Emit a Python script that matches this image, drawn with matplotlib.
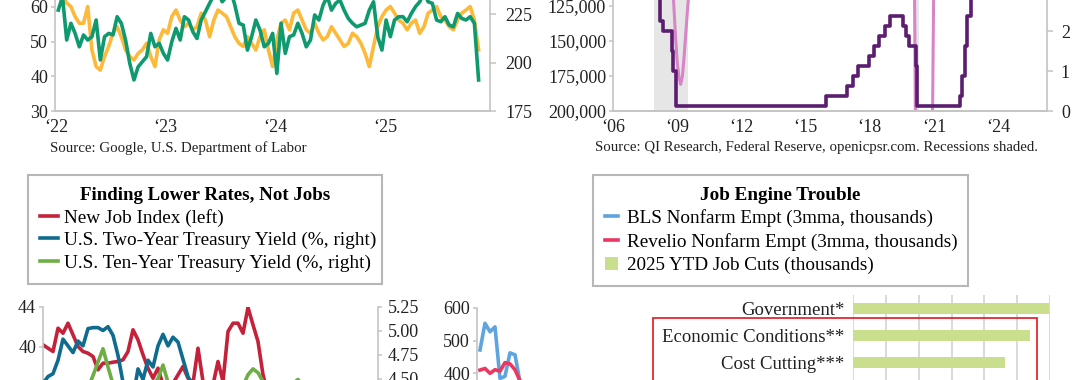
import matplotlib
matplotlib.use("Agg")
import matplotlib.pyplot as plt
import numpy as np
import pandas as pd
from matplotlib.patches import Rectangle
from matplotlib.ticker import FuncFormatter

plt.rcParams["font.family"] = ["Liberation Serif", "DejaVu Serif"]

W, H = 1080, 380

# --- top left: Google job search index (left) and initial claims (right) ---
claims_dates = pd.date_range("2022-01-08", periods=101, freq="14D")
google_index = [
    64.9, 63.0, 61.1, 60.1, 57.2, 55.3, 55.3, 60.1, 47.6, 42.8,
    41.8, 45.7, 48.6, 52.4, 54.3, 51.4, 47.6, 45.7, 44.7, 46.6,
    47.6, 49.5, 45.7, 42.8, 50.5, 53.4, 52.4, 57.2, 59.1, 56.2,
    54.3, 55.3, 53.4, 54.3, 58.2, 56.2, 51.4, 56.2, 59.1, 58.2,
    57.2, 54.3, 51.4, 49.5, 48.6, 51.4, 49.5, 47.6, 51.4, 53.4,
    47.6, 42.8, 50.5, 55.3, 56.2, 53.4, 58.2, 59.1, 56.2, 53.4,
    52.4, 55.3, 52.4, 50.5, 51.4, 54.3, 52.4, 50.5, 48.6, 49.5,
    52.4, 51.4, 49.5, 46.6, 42.8, 48.6, 54.3, 57.2, 59.1, 60.1,
    58.2, 56.2, 55.3, 53.4, 55.3, 56.2, 52.4, 54.3, 58.2, 59.1,
    60.1, 57.2, 56.2, 54.3, 53.4, 56.2, 58.2, 59.1, 60.1, 56.2,
    47.6,
]
initial_claims = [
    227.0, 233.9, 211.6, 220.2, 215.0, 208.1, 214.2, 211.6, 213.3, 221.9,
    201.3, 213.3, 215.0, 214.2, 223.6, 220.2, 211.6, 199.6, 191.0, 197.8,
    200.4, 203.0, 215.0, 208.1, 209.9, 204.7, 201.3, 210.7, 217.6, 211.6,
    223.6, 221.9, 215.9, 212.4, 221.9, 226.2, 230.5, 234.8, 236.5, 231.3,
    233.9, 237.4, 229.6, 220.2, 219.3, 206.4, 213.3, 221.9, 216.7, 208.1,
    209.9, 215.0, 194.4, 220.2, 204.7, 213.3, 214.2, 220.2, 215.0, 208.1,
    211.6, 224.5, 221.9, 229.6, 234.0, 227.0, 230.5, 232.2, 227.0, 222.7,
    220.2, 218.4, 219.3, 220.2, 227.0, 231.3, 213.3, 206.4, 221.9, 213.3,
    221.9, 223.6, 223.6, 221.0, 225.3, 228.8, 231.3, 236.0, 231.3, 230.5,
    221.9, 221.0, 223.6, 219.3, 218.4, 225.3, 222.7, 221.9, 223.6, 220.2,
    191.0,
]
year_ticks_top_left = ["2022-01-01", "2023-01-01", "2024-01-01", "2025-01-01"]
year_labels_top_left = ["\u201822", "\u201823", "\u201824", "\u201825"]

# --- top right: fed funds rate (right) and pink series (left, inverted) ---
fed_dates = [
    "2006-01-01", "2006-06-29", "2007-09-18", "2007-10-31", "2007-12-11",
    "2008-01-22", "2008-01-30", "2008-03-18", "2008-04-30", "2008-10-08",
    "2008-10-29", "2008-12-16", "2015-12-16", "2016-12-14", "2017-03-15",
    "2017-06-14", "2017-12-13", "2018-03-21", "2018-06-13", "2018-09-26",
    "2018-12-19", "2019-07-31", "2019-09-18", "2019-10-30", "2020-03-03",
    "2020-03-15", "2022-03-16", "2022-05-04", "2022-06-15", "2022-07-27",
    "2022-09-21", "2022-11-02", "2022-12-14", "2023-02-01", "2023-03-22",
    "2023-05-03", "2023-07-26", "2024-09-18", "2024-11-07", "2024-12-18",
    "2025-09-17", "2025-10-29", "2025-11-30",
]
fed_rate = [
    4.25, 5.25, 4.75, 4.5, 4.25,
    3.5, 3.0, 2.25, 2.0, 1.5,
    1.0, 0.125, 0.375, 0.625, 0.875,
    1.125, 1.375, 1.625, 1.875, 2.125,
    2.375, 2.125, 1.875, 1.625, 1.125,
    0.125, 0.375, 0.875, 1.625, 2.375,
    3.125, 3.875, 4.375, 4.625, 4.875,
    5.125, 5.375, 4.875, 4.625, 4.375,
    4.125, 3.875, 3.875,
]
pink_dates = [
    "2006-01-01", "2006-07-01", "2007-01-01", "2007-07-01", "2008-01-01",
    "2008-05-01", "2008-09-01", "2008-10-01", "2008-11-01", "2008-12-01",
    "2009-01-01", "2009-02-01", "2009-03-01", "2009-04-01", "2009-05-01",
    "2009-06-01", "2009-07-01", "2009-08-01", "2009-12-01", "2010-06-01",
    "2011-06-01", "2012-06-01", "2013-06-01", "2014-06-01", "2015-06-01",
    "2016-06-01", "2017-06-01", "2018-06-01", "2019-06-01", "2020-01-01",
    "2020-02-01", "2020-04-01", "2020-06-01", "2020-09-01", "2020-11-01",
    "2021-01-01", "2021-06-01", "2022-06-01", "2023-06-01", "2024-06-01",
    "2025-06-01", "2025-10-01",
]
pink_values = [
    60000, 55000, 58000, 62000, 75000,
    88000, 100000, 112000, 122000, 145000,
    165000, 176000, 181000, 175000, 160000,
    142000, 125000, 110000, 85000, 70000,
    62000, 58000, 55000, 50000, 48000,
    50000, 47000, 45000, 48000, 60000,
    90000, 450000, 600000, 500000, 380000,
    95000, 70000, 45000, 55000, 60000,
    65000, 70000,
]
recessions = [("2007-12-01", "2009-06-30"), ("2020-02-01", "2020-04-30")]
year_ticks_top_right = ["2006", "2009", "2012", "2015", "2018", "2021", "2024"]

# --- bottom left: New Job Index (left) and Treasury yields (right) ---
new_job_index = [
    40.17, 39.83, 39.5, 41.83, 41.33, 42.33, 41.17, 40.0, 39.5, 39.33,
    39.0, 37.67, 38.33, 38.33, 38.43, 38.5, 38.67, 39.5, 41.67, 40.67,
    39.17, 37.83, 36.83, 37.83, 36.17, 35.5, 36.33, 37.17, 38.0, 36.83,
    36.33, 39.83, 36.5, 35.17, 36.17, 38.5, 36.5, 41.5, 42.33, 42.33,
    41.33, 43.9, 42.17, 40.5, 37.17, 35.2, 34.8, 35.5, 34.0, 33.5,
    34.2, 33.0, 32.5, 33.8, 34.5, 33.2, 32.0, 31.5, 32.8, 33.5,
    32.2, 31.0, 31.8, 32.5, 31.2, 30.5, 31.0, 30.2,
]
two_year_yield = [
    4.45, 4.52, 4.55, 4.69, 4.91, 4.84, 4.77, 4.89, 4.84, 5.02,
    5.03, 5.03, 5.00, 5.04, 4.95, 4.74, 4.46, 4.32, 4.30, 4.60,
    4.49, 4.69, 4.62, 4.84, 4.96, 4.84, 4.93, 4.88, 4.70, 4.52,
    4.42, 4.35, 4.28, 4.22, 4.30, 4.25, 4.18, 4.10, 4.05, 3.98,
    3.92, 3.85, 3.75, 3.70, 3.62, 3.58, 3.65, 3.80, 3.95, 4.10,
    4.20, 4.25, 4.30, 4.22, 4.15, 4.05, 3.95, 3.98, 3.92, 3.88,
    3.90, 3.86, 3.80, 3.75, 3.72, 3.68, 3.62, 3.58,
]
ten_year_yield = [
    4.10, 4.12, 4.15, 4.20, 4.30, 4.25, 4.28, 4.35, 4.32, 4.40,
    4.53, 4.67, 4.81, 4.62, 4.44, 4.35, 4.25, 4.20, 4.18, 4.28,
    4.32, 4.38, 4.43, 4.50, 4.64, 4.46, 4.40, 4.35, 4.30, 4.28,
    4.25, 4.30, 4.22, 4.15, 4.10, 4.05, 4.12, 4.20, 4.28, 4.35,
    4.42, 4.54, 4.60, 4.56, 4.47, 4.38, 4.30, 4.25, 4.32, 4.40,
    4.45, 4.49, 4.42, 4.35, 4.28, 4.20, 4.15, 4.22, 4.30, 4.25,
    4.18, 4.12, 4.10, 4.15, 4.08, 4.05, 4.02, 4.00,
]

# --- bottom middle: payroll estimates (3mma, thousands) ---
bls_payrolls = [
    471, 553, 527, 542, 383, 390, 462, 456, 372, 350,
    330, 345, 300, 280, 295, 260, 240, 250, 230, 210,
    225, 240, 200, 185, 205, 190, 170, 180, 160, 150,
]
revelio_payrolls = [
    409, 414, 399, 410, 406, 432, 428, 410, 376, 360,
    340, 330, 320, 300, 290, 285, 270, 260, 250, 240,
    230, 220, 210, 200, 190, 180, 170, 165, 150, 140,
]

# --- bottom right: 2025 YTD job cuts by reason (thousands) ---
cut_reasons = [
    "Government*", "Economic Conditions**", "Cost Cutting***",
    "Closing/Bankruptcy", "Restructuring", "Tariffs", "Artificial Intelligence",
]
cut_counts = [299, 270, 232, 165, 120, 95, 48]

ORANGE = "#FDB93A"
TEAL = "#0E9A6E"
PURPLE = "#5B1E6F"
ORCHID = "#D884C8"
RED = "#C4213A"
BLUE = "#0F6C8E"
GREEN = "#6DAE45"
SKY = "#5EA5DF"
ROSE = "#EC3760"
LIME = "#C9DF8E"
SPINE = "#C4C4C4"
TEXT = "#222222"
TICK_SIZE = 13
LW = 2.6


def px_rect(left, top, right, bottom):
    return [left / W, 1 - bottom / H, (right - left) / W, (bottom - top) / H]


def style_axis(ax, left=True, right=False, bottom=True):
    for side, show in (("left", left), ("right", right), ("bottom", bottom), ("top", False)):
        ax.spines[side].set_visible(show)
        ax.spines[side].set_color(SPINE)
        ax.spines[side].set_linewidth(1.2)
    ax.tick_params(axis="y", colors=SPINE, labelcolor=TEXT, labelsize=TICK_SIZE,
                   length=3, width=1.1, pad=2)
    ax.tick_params(axis="x", colors=SPINE, labelcolor=TEXT, labelsize=TICK_SIZE,
                   length=0, pad=6)
    ax.patch.set_alpha(0)


fig = plt.figure(figsize=(W / 100, H / 100), dpi=100)

# top left
ax_tl = fig.add_axes(px_rect(55, 111 - 50 * 3.47, 490, 111))
ax_tl.plot(claims_dates, google_index, color=ORANGE, lw=LW, solid_joinstyle="round")
ax_tl.set_ylim(30, 80)
ax_tl.set_yticks(range(30, 81, 10))
ax_tl.set_xlim(pd.Timestamp("2021-12-28"), pd.Timestamp("2025-12-16"))
ax_tl.set_xticks(pd.to_datetime(year_ticks_top_left))
ax_tl.set_xticklabels(year_labels_top_left)
style_axis(ax_tl)
ax_tl_r = ax_tl.twinx()
ax_tl_r.plot(claims_dates, initial_claims, color=TEAL, lw=LW, solid_joinstyle="round")
ax_tl_r.set_ylim(175, 175 + 50 * 3.47 / 1.94)
ax_tl_r.set_yticks([175, 200, 225, 250])
style_axis(ax_tl_r, left=False, right=True)
ax_tl_r.tick_params(axis="y", length=4, pad=7)
fig.text(50 / W, 1 - 148 / H, "Source: Google, U.S. Department of Labor",
         fontsize=10.7, color=TEXT, va="center")

# top right
ax_tr = fig.add_axes(px_rect(613, 111 - 280, 1047, 111))
for start, end in recessions:
    ax_tr.axvspan(pd.Timestamp(start), pd.Timestamp(end), color="#E6E6E6", lw=0)
ax_tr.plot(pd.to_datetime(pink_dates), pink_values, color=ORCHID, lw=2.2)
ax_tr.set_ylim(200000, 0)
ax_tr.set_yticks(range(0, 200001, 25000))
ax_tr.yaxis.set_major_formatter(FuncFormatter(lambda v, _: f"{v:,.0f}"))
ax_tr.set_xlim(pd.Timestamp("2006-01-18"), pd.Timestamp("2026-04-16"))
ax_tr.set_xticks(pd.to_datetime([f"{y}-01-01" for y in year_ticks_top_right]))
ax_tr.set_xticklabels(["\u2018" + y[2:] for y in year_ticks_top_right])
style_axis(ax_tr)
ax_tr_r = ax_tr.twinx()
ax_tr_r.step(pd.to_datetime(fed_dates), fed_rate, where="post", color=PURPLE, lw=LW)
ax_tr_r.set_ylim(0, 7)
ax_tr_r.set_yticks(range(0, 8))
style_axis(ax_tr_r, left=False, right=True)
ax_tr_r.tick_params(axis="y", length=4, pad=6)
fig.text(595 / W, 1 - 148 / H,
         "Source: QI Research, Federal Reserve, openicpsr.com. Recessions shaded.",
         fontsize=10.75, color=TEXT, va="center")

# bottom left
idx = np.arange(len(new_job_index))
ax_bl = fig.add_axes(px_rect(43, 306.5, 378, 466.5))
job_line, = ax_bl.plot(idx, new_job_index, color=RED, lw=LW)
ax_bl.set_ylim(28, 44)
ax_bl.set_yticks(range(28, 45, 4))
ax_bl.set_xlim(0, len(idx) - 1)
ax_bl.set_xticks([])
style_axis(ax_bl, bottom=False)
ax_bl_r = ax_bl.twinx()
two_line, = ax_bl_r.plot(idx, two_year_yield, color=BLUE, lw=LW)
ten_line, = ax_bl_r.plot(idx, ten_year_yield, color=GREEN, lw=LW)
ax_bl_r.set_ylim(5.25 - 160 / 96, 5.25)
ax_bl_r.set_yticks(np.arange(3.75, 5.26, 0.25))
ax_bl_r.yaxis.set_major_formatter(FuncFormatter(lambda v, _: f"{v:.2f}"))
style_axis(ax_bl_r, left=False, right=True, bottom=False)
ax_bl_r.tick_params(axis="y", length=3, pad=4)

leg1 = fig.legend(
    [job_line, two_line, ten_line],
    ["New Job Index (left)", "U.S. Two-Year Treasury Yield (%, right)",
     "U.S. Ten-Year Treasury Yield (%, right)"],
    title="Finding Lower Rates, Not Jobs",
    title_fontproperties={"weight": "bold", "size": 13.6},
    loc="upper left", bbox_to_anchor=(28 / W, 1 - 277 / H, 354 / W, 102 / H),
    bbox_transform=fig.transFigure, mode="expand", borderaxespad=0,
    fontsize=13.9, frameon=True, fancybox=False, edgecolor="#A5A5A5",
    handlelength=0.95, handletextpad=0.28, labelspacing=0.25, borderpad=0.62,
)
leg1.get_frame().set_linewidth(1.5)

# bottom middle
months = np.arange(len(bls_payrolls))
ax_bm = fig.add_axes(px_rect(477, 308, 625, 503))
bls_line, = ax_bm.plot(months, bls_payrolls, color=SKY, lw=LW)
rev_line, = ax_bm.plot(months, revelio_payrolls, color=ROSE, lw=LW)
ax_bm.set_ylim(0, 600)
ax_bm.set_yticks(range(0, 601, 100))
ax_bm.set_xlim(-0.6, 29)
ax_bm.set_xticks([])
style_axis(ax_bm, bottom=False)

# bottom right
ax_br = fig.add_axes(px_rect(853, 295, 1050, 295 + 27 * len(cut_reasons)))
bars = ax_br.barh(cut_reasons, cut_counts, height=0.38, color=LIME, zorder=2)
ax_br.set_ylim(len(cut_reasons) - 0.5, -0.5)
ax_br.set_xlim(0, 300)
ax_br.set_xticks(range(0, 301, 50))
ax_br.xaxis.grid(True, color="#D0D0D0", lw=1.1, zorder=0)
ax_br.set_axisbelow(True)
for side in ("left", "right", "top", "bottom"):
    ax_br.spines[side].set_visible(False)
ax_br.tick_params(axis="x", length=0, labelbottom=False)
ax_br.tick_params(axis="y", length=0, pad=6, labelsize=13.5, labelcolor=TEXT)

leg2 = fig.legend(
    [bls_line, rev_line, bars],
    ["BLS Nonfarm Empt (3mma, thousands)", "Revelio Nonfarm Empt (3mma, thousands)",
     "2025 YTD Job Cuts (thousands)"],
    title="Job Engine Trouble",
    title_fontproperties={"weight": "bold", "size": 13.8},
    loc="upper left", bbox_to_anchor=(593 / W, 1 - 280 / H, 375 / W, 105 / H),
    bbox_transform=fig.transFigure, mode="expand", borderaxespad=0,
    fontsize=13.8, frameon=True, fancybox=False, edgecolor="#A5A5A5",
    handlelength=0.7, handleheight=0.7, handletextpad=0.45, labelspacing=0.3,
    borderpad=0.6,
)
leg2.get_frame().set_linewidth(1.5)

fig.add_artist(Rectangle((653 / W, 1 - 520 / H), (1037 - 653) / W, (520 - 318) / H,
                         transform=fig.transFigure, fill=False,
                         edgecolor="#E8262C", lw=1.3))

fig.savefig("out.png", dpi=100)
